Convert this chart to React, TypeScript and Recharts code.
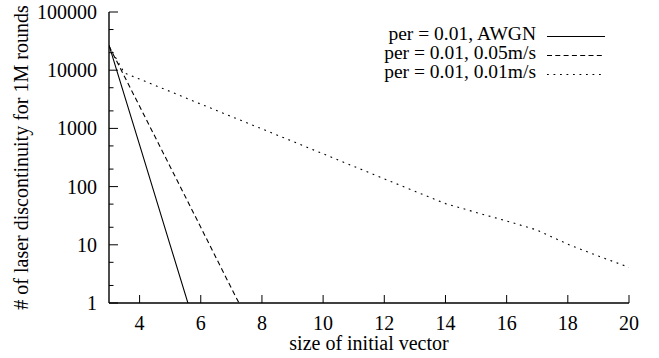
import React from 'react'
import { LineChart, Line, XAxis, YAxis } from 'recharts'

const FONT = '"Liberation Serif", "Times New Roman", "DejaVu Serif", serif'

// x axis ticks and log y axis ticks (2 and 5 are minor ticks)
const xTicks = [4, 6, 8, 10, 12, 14, 16, 18, 20]
const yTicks = [1, 2, 5, 10, 20, 50, 100, 200, 500, 1000, 2000, 5000, 10000, 20000, 50000, 100000]

// series
const awgnX = [3, 4, 5, 6]
const awgnY = [27000, 520, 9.9, 0.19]

const fast005X = [3, 4, 5, 6, 7, 8]
const fast005Y = [26000, 2400, 220, 20, 1.8, 0.17]

const slow001X = [3, 3.5, 4, 5, 6, 7, 8, 9, 10, 11, 12, 13, 14, 15, 16, 17, 18, 19, 20]
const slow001Y = [
  26000, 9000, 7030, 4300, 2620, 1600, 980, 600, 366, 223, 136, 83, 51, 36, 25.7, 17.9, 10.2,
  6.4, 4.1,
]

const labels = ['per = 0.01, AWGN', 'per = 0.01, 0.05m/s', 'per = 0.01, 0.01m/s']

const toRows = (xs: number[], ys: number[]) => xs.map((x, i) => ({ x, y: ys[i] }))

const SERIES = [
  { name: labels[0], data: toRows(awgnX, awgnY), dash: undefined as string | undefined },
  { name: labels[1], data: toRows(fast005X, fast005Y), dash: '5 3.3' },
  { name: labels[2], data: toRows(slow001X, slow001Y), dash: '1.8 4.7' },
]

const FS = 20

const isMajor = (v: number) => Math.abs(Math.log10(v) - Math.round(Math.log10(v))) < 1e-6

const BottomTick = ({ x, y, payload }: any) => (
  <g>
    <line x1={x} x2={x} y1={y} y2={y - 8} stroke="#000" strokeWidth={1} />
    <text x={x} y={y + 27} textAnchor="middle" fontSize={FS} style={{ fontFamily: FONT }} fill="#000">
      {payload.value}
    </text>
  </g>
)

const TopTick = ({ x, y }: any) => (
  <line x1={x} x2={x} y1={y} y2={y + 8} stroke="#000" strokeWidth={1} />
)

const LeftTick = ({ x, y, payload }: any) => {
  const major = isMajor(payload.value)
  return (
    <g>
      <line x1={x} x2={x + (major ? 9 : 4.5)} y1={y} y2={y} stroke="#000" strokeWidth={1} />
      {major && (
        <text
          x={x - 12}
          y={y}
          dy="0.35em"
          textAnchor="end"
          fontSize={FS}
          style={{ fontFamily: FONT }}
          fill="#000"
        >
          {payload.value}
        </text>
      )}
    </g>
  )
}

const RightTick = ({ x, y, payload }: any) => {
  const major = isMajor(payload.value)
  return <line x1={x} x2={x - (major ? 9 : 4.5)} y1={y} y2={y} stroke="#000" strokeWidth={1} />
}

const YLabel = ({ viewBox }: any) => {
  const cx = 28
  const cy = viewBox.y + viewBox.height / 2
  return (
    <text
      x={cx}
      y={cy}
      transform={`rotate(-90 ${cx} ${cy})`}
      textAnchor="middle"
      fontSize={FS}
      style={{ fontFamily: FONT }}
      fill="#000"
    >
      # of laser discontinuity for 1M rounds
    </text>
  )
}

const XLabel = ({ viewBox }: any) => (
  <text
    x={viewBox.x + viewBox.width / 2}
    y={350}
    textAnchor="middle"
    fontSize={FS}
    style={{ fontFamily: FONT }}
    fill="#000"
  >
    size of initial vector
  </text>
)

export default function App() {
  return (
    <div style={{ position: 'absolute', left: 0, top: 0, width: 659, height: 358, background: '#fff' }}>
      <LineChart width={659} height={358} margin={{ top: 12, right: 30, bottom: 0, left: 0 }}>
        <XAxis
          type="number"
          dataKey="x"
          domain={[3, 20]}
          ticks={xTicks}
          allowDataOverflow
          height={55}
          tickSize={0}
          tickMargin={0}
          interval={0}
          tick={<BottomTick />}
          axisLine={{ stroke: '#000', strokeWidth: 1.4 }}
          label={<XLabel />}
        />
        <XAxis
          xAxisId="top"
          orientation="top"
          type="number"
          dataKey="x"
          domain={[3, 20]}
          ticks={xTicks}
          allowDataOverflow
          height={0}
          tickSize={0}
          tickMargin={0}
          interval={0}
          tick={<TopTick />}
          axisLine={{ stroke: '#000', strokeWidth: 1.4 }}
        />
        <YAxis
          type="number"
          scale="log"
          domain={[1, 100000]}
          ticks={yTicks}
          allowDataOverflow
          width={109}
          tickSize={0}
          tickMargin={0}
          interval={0}
          tick={<LeftTick />}
          axisLine={{ stroke: '#000', strokeWidth: 1.4 }}
          label={<YLabel />}
        />
        <YAxis
          yAxisId="right"
          orientation="right"
          type="number"
          scale="log"
          domain={[1, 100000]}
          ticks={yTicks}
          allowDataOverflow
          width={0}
          tickSize={0}
          tickMargin={0}
          interval={0}
          tick={<RightTick />}
          axisLine={{ stroke: '#000', strokeWidth: 1.4 }}
        />
        {SERIES.map((s) => (
          <Line
            key={s.name}
            data={s.data}
            dataKey="y"
            name={s.name}
            type="linear"
            stroke="#000"
            strokeWidth={1.1}
            strokeDasharray={s.dash}
            dot={false}
            activeDot={false}
            isAnimationActive={false}
          />
        ))}
      </LineChart>
      <svg
        width={659}
        height={358}
        style={{ position: 'absolute', left: 0, top: 0, pointerEvents: 'none' }}
      >
        {SERIES.map((s, i) => {
          const cy = 36.5 + i * 19
          return (
            <g key={s.name}>
              <text
                x={536}
                y={cy + 3.5}
                textAnchor="end"
                fontSize={19.5}
                style={{ fontFamily: FONT }}
                fill="#000"
              >
                {s.name}
              </text>
              <line
                x1={547}
                x2={605}
                y1={cy}
                y2={cy}
                stroke="#000"
                strokeWidth={1.1}
                strokeDasharray={s.dash}
              />
            </g>
          )
        })}
      </svg>
    </div>
  )
}
